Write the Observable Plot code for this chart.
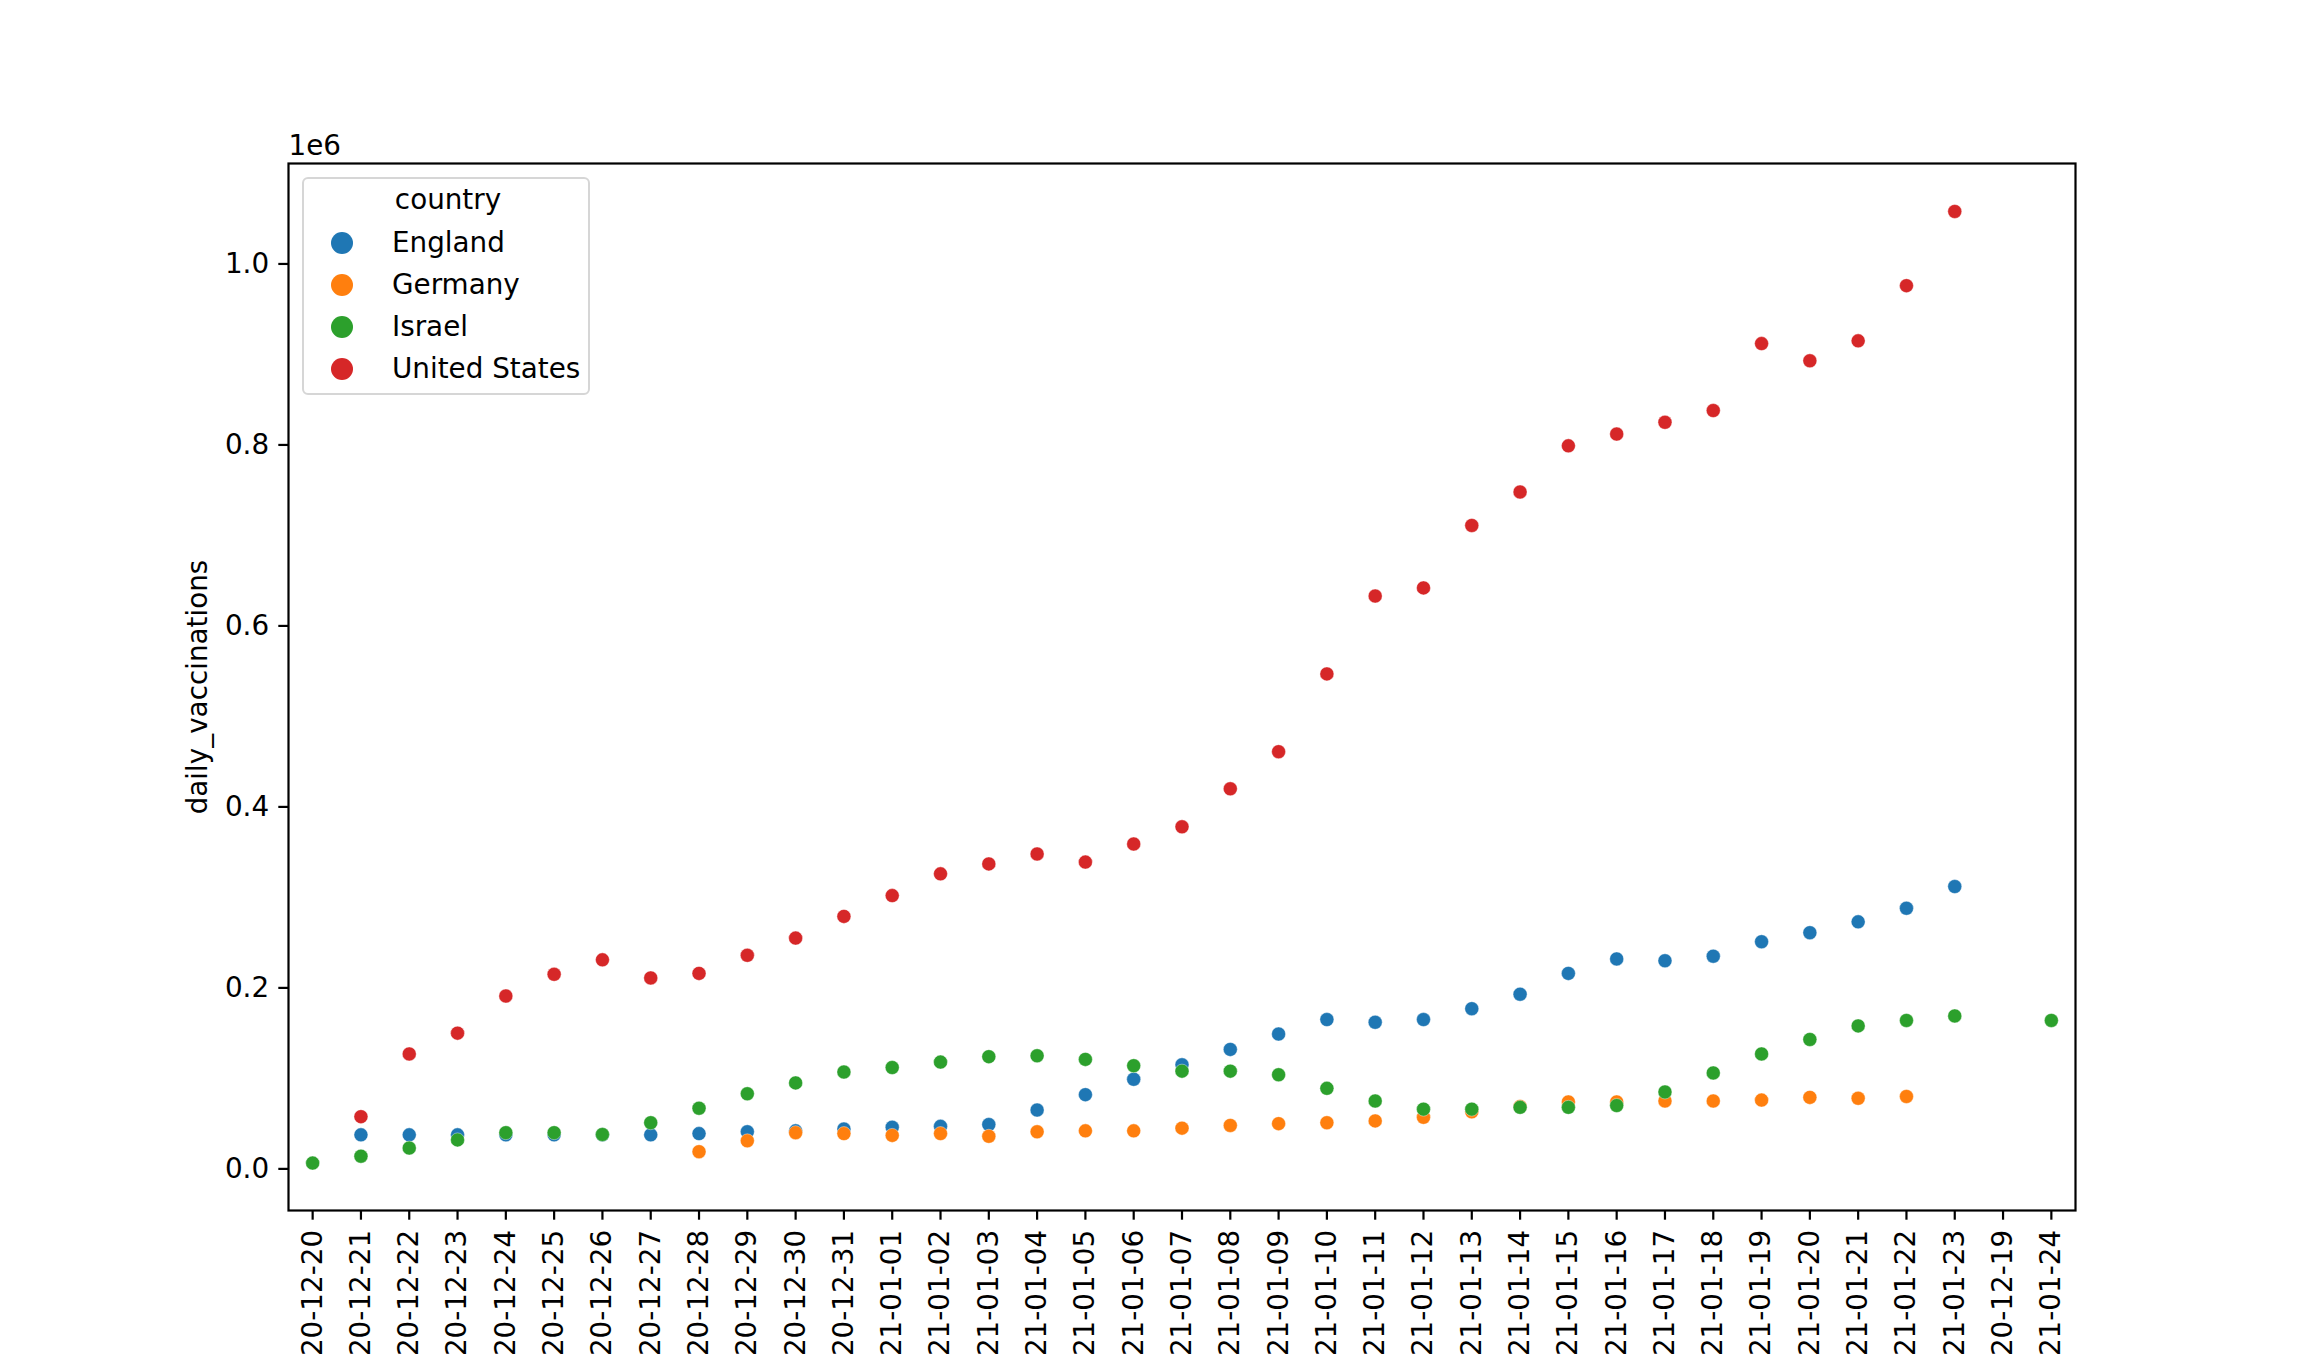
<!DOCTYPE html>
<html>
<head>
<meta charset="utf-8">
<script src="https://cdn.jsdelivr.net/npm/d3@7"></script>
<script src="https://cdn.jsdelivr.net/npm/@observablehq/plot@0.6"></script>
<style>
  html, body { margin: 0; padding: 0; background: #fff; }
  #wrap { position: relative; width: 2306px; height: 1360px; font-family: "DejaVu Sans", sans-serif; }
  #legend {
    position: absolute; left: 302px; top: 177px; width: 284px; height: 214px;
    border: 2.2px solid #d6d6d6; border-radius: 6px; background: rgba(255,255,255,0.8);
    font-size: 27.8px; color: #000;
  }
  #legend .title { position: absolute; left: 0; width: 288px; top: 4px; text-align: center; }
  #legend .item { position: absolute; left: 0; height: 34px; line-height: 34px; }
  #legend .sw { position: absolute; left: 27px; top: 6px; width: 22px; height: 22px; border-radius: 50%; }
  #legend .lab { position: absolute; left: 88px; white-space: nowrap; }
</style>
</head>
<body>
<div id="wrap"></div>
<script>
// Categories in the order they appear on the x axis
const dates = [
  "20-12-20","20-12-21","20-12-22","20-12-23","20-12-24","20-12-25","20-12-26","20-12-27",
  "20-12-28","20-12-29","20-12-30","20-12-31","21-01-01","21-01-02","21-01-03","21-01-04",
  "21-01-05","21-01-06","21-01-07","21-01-08","21-01-09","21-01-10","21-01-11","21-01-12",
  "21-01-13","21-01-14","21-01-15","21-01-16","21-01-17","21-01-18","21-01-19","21-01-20",
  "21-01-21","21-01-22","21-01-23","20-12-19","21-01-24"
];
const countries = ["England", "Germany", "Israel", "United States"];
const colors = ["#1f77b4", "#ff7f0e", "#2ca02c", "#d62728"];
const yTicks = [0, 200000, 400000, 600000, 800000, 1000000];

// England: 20-12-21 .. 21-01-23
const englandDates = dates.slice(1, 35);
const englandValues = [
  37600, 37600, 37600, 37600, 37600, 37600, 37600, 39000, 41000, 42000, 44000,
  46000, 47000, 49000, 65000, 82000, 99000, 115000, 132000, 149000, 165000,
  162000, 165000, 177000, 193000, 216000, 232000, 230000, 235000, 251000,
  261000, 273000, 288000, 312000
];
// Germany: 20-12-28 .. 21-01-22
const germanyDates = dates.slice(8, 34);
const germanyValues = [
  19000, 31000, 40000, 39000, 37000, 39000, 36000, 41000, 42000, 42000,
  45000, 48000, 50000, 51000, 53000, 57000, 63000, 69000, 74000, 74000,
  75000, 75000, 76000, 79000, 78000, 80000
];
// Israel: 20-12-20 .. 21-01-23, and 21-01-24
const israelDates = dates.slice(0, 35).concat(["21-01-24"]);
const israelValues = [
  6400, 14000, 23000, 32000, 40000, 40000, 38000, 51000, 67000, 83000,
  95000, 107000, 112000, 118000, 124000, 125000, 121000, 114000, 108000, 108000,
  104000, 89000, 75000, 66000, 66000, 68000, 68000, 70000, 85000, 106000,
  127000, 143000, 158000, 164000, 169000, 164000
];
// United States: 20-12-21 .. 21-01-23
const usDates = dates.slice(1, 35);
const usValues = [
  57700, 127000, 150000, 191000, 215000, 231000, 211000, 216000, 236000, 255000,
  279000, 302000, 326000, 337000, 348000, 339000, 359000, 378000, 420000, 461000,
  547000, 633000, 642000, 711000, 748000, 799000, 812000, 825000, 838000, 912000,
  893000, 915000, 976000, 1058000
];

const series = [
  ["England", englandDates, englandValues],
  ["Germany", germanyDates, germanyValues],
  ["Israel", israelDates, israelValues],
  ["United States", usDates, usValues]
];
const rows = series.flatMap(([country, ds, vs]) => ds.map((d, i) => ({country, date: d, value: vs[i]})));

const chart = Plot.plot({
  width: 2306,
  height: 1360,
  marginLeft: 288,
  marginRight: 231,
  marginTop: 163,
  marginBottom: 150,
  style: {fontFamily: "DejaVu Sans, sans-serif", fontSize: "27.8px", color: "#000", background: "#fff", overflow: "visible"},
  x: {type: "point", domain: dates, padding: 0.5, round: false, label: null},
  y: {domain: [-46000, 1111000], label: null},
  color: {domain: countries, range: colors},
  marks: [
    Plot.dot(rows, {x: "date", y: "value", fill: "country", r: 7, stroke: "#fff", strokeWidth: 0.4}),
    Plot.frame({stroke: "#000", strokeWidth: 2.2}),
    Plot.axisY({ticks: yTicks, tickFormat: d => (d / 1e6).toFixed(1), tickSize: 9.7, tickPadding: 9.7, strokeWidth: 2.2, label: null}),
    Plot.axisX({tickRotate: -90, tickSize: 9.7, tickPadding: 9.7, strokeWidth: 2.2, label: null}),
    Plot.text(["daily_vaccinations"], {text: d => d, frameAnchor: "left", textAnchor: "middle", lineAnchor: "middle", rotate: -90, dx: -90}),
    Plot.text(["1e6"], {text: d => d, frameAnchor: "top-left", textAnchor: "start", lineAnchor: "bottom", dy: -9})
  ]
});

const wrap = document.getElementById("wrap");
wrap.appendChild(chart);

// legend (seaborn-style, inside the axes, top-left)
const legend = document.createElement("div");
legend.id = "legend";
const title = document.createElement("div");
title.className = "title";
title.textContent = "country";
legend.appendChild(title);
countries.forEach((c, i) => {
  const item = document.createElement("div");
  item.className = "item";
  item.style.top = (47 + i * 42) + "px";
  const sw = document.createElement("div");
  sw.className = "sw";
  sw.style.background = colors[i];
  const lab = document.createElement("div");
  lab.className = "lab";
  lab.textContent = c;
  item.appendChild(sw);
  item.appendChild(lab);
  legend.appendChild(item);
});
wrap.appendChild(legend);
</script>
</body>
</html>
